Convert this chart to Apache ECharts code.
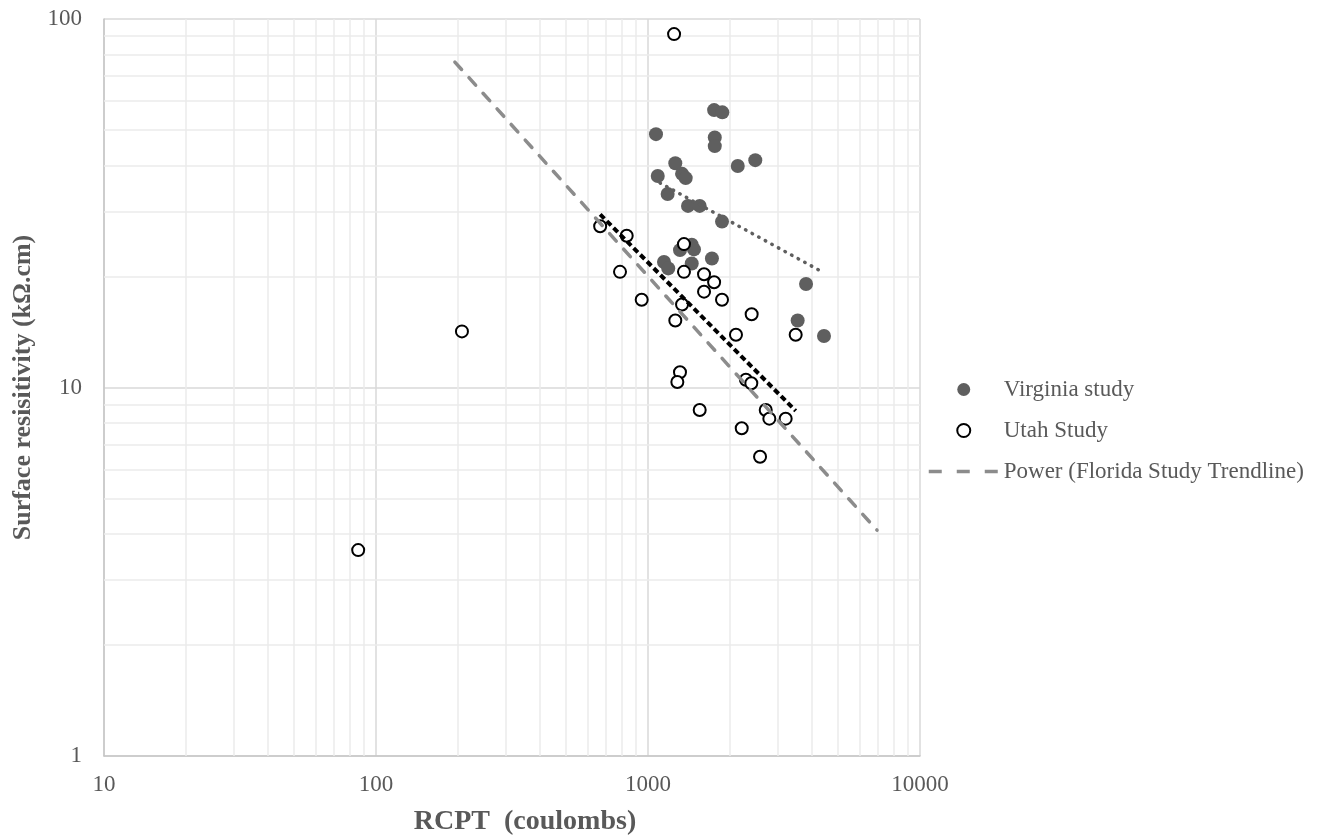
<!DOCTYPE html>
<html>
<head>
<meta charset="utf-8">
<title>RCPT vs surface resistivity</title>
<script src="https://cdn.jsdelivr.net/npm/echarts@6/dist/echarts.min.js"></script>
<style>
  html, body { margin: 0; padding: 0; background: #fff; }
  #myChart { width: 1337px; height: 839px; }
</style>
</head>
<body>
<div id="myChart"></div>
<script>
// Virginia study (filled dots)
var virginiaX = [1750, 1876, 1070, 1760, 1760, 1260, 2480, 2138, 1086, 1334, 1376, 1181, 1403, 1549, 1871, 1448, 1476, 1448, 1311, 1145, 1187, 1718, 3811, 3550, 4436];
var virginiaY = [56.6, 55.8, 48.7, 47.7, 45.2, 40.6, 41.4, 39.9, 37.5, 38.0, 37.0, 33.5, 31.1, 31.1, 28.2, 24.4, 23.7, 21.7, 23.6, 21.9, 21.05, 22.4, 19.1, 15.2, 13.8];

// Utah study (open circles)
var utahX = [86, 207, 1247, 667, 835, 789, 948, 1356, 1356, 1607, 1750, 1607, 1871, 1334, 1260, 2405, 2106, 3491, 1311, 1282, 2291, 2398, 1549, 2709, 2793, 3207, 2211, 2582];
var utahY = [3.62, 14.2, 91, 27.4, 25.8, 20.6, 17.3, 24.5, 20.6, 20.3, 19.3, 18.2, 17.3, 16.8, 15.2, 15.8, 13.9, 13.9, 11.0, 10.35, 10.5, 10.27, 8.69, 8.69, 8.23, 8.23, 7.75, 6.49];

// trendline end points
var floridaTrendX = [195, 6950];
var floridaTrendY = [76.4, 4.1];
var utahTrendX = [667, 3491];
var utahTrendY = [29.5, 8.64];
var virginiaTrendX = [1107, 4315];
var virginiaTrendY = [35.9, 20.7];

// minor grid values (log axes)
var xMinor = [20, 30, 40, 50, 60, 70, 80, 90, 200, 300, 400, 500, 600, 700, 800, 900, 2000, 3000, 4000, 5000, 6000, 7000, 8000, 9000];
var yMinor = [2, 3, 4, 5, 6, 7, 8, 9, 20, 30, 40, 50, 60, 70, 80, 90];

function pairs(xs, ys) {
    var out = [];
    for (var i = 0; i < xs.length; i++) out.push([xs[i], ys[i]]);
    return out;
}

var minorLines = [];
xMinor.forEach(function (v) { minorLines.push({ xAxis: v }); });
yMinor.forEach(function (v) { minorLines.push({ yAxis: v }); });

var font = 'Liberation Serif';
var txt = '#595959';

var myChart = echarts.init(document.getElementById('myChart'));

var option = {
    backgroundColor: '#fff',
    animation: false,
    grid: {
        left: 104, top: 19, right: 417, bottom: 83,
        containLabel: false, outerBoundsMode: 'none'
    },
    legend: {
        orient: 'vertical',
        left: 922, top: 373,
        itemWidth: 70, itemHeight: 13, itemGap: 18,
        textStyle: { fontFamily: font, fontSize: 23, color: txt },
        data: [
            'Virginia study',
            'Utah Study',
            {
                name: 'Power (Florida Study Trendline)',
                itemStyle: { opacity: 0 },
                lineStyle: { color: '#8c8c8c', width: 3.5, type: [13, 15], cap: 'butt' }
            }
        ]
    },
    xAxis: {
        type: 'log', min: 10, max: 10000,
        name: 'RCPT  (coulombs)', nameLocation: 'middle', nameGap: 52,
        nameTextStyle: { fontFamily: font, fontSize: 28, fontWeight: 'bold', color: txt, padding: [0, 0, 0, 26] },
        axisLine: { show: true, lineStyle: { color: '#c6c6c6', width: 1.5 } },
        axisTick: { show: false },
        axisLabel: { fontFamily: font, fontSize: 23, color: txt, margin: 17,
            formatter: function (v) { return String(Math.round(v)); } },
        splitLine: { show: true, lineStyle: { color: '#d9d9d9', width: 1.5 } }
    },
    yAxis: {
        type: 'log', min: 1, max: 100,
        name: 'Surface resisitivity (kΩ.cm)', nameLocation: 'middle', nameGap: 63,
        nameTextStyle: { fontFamily: font, fontSize: 26, fontWeight: 'bold', color: txt },
        axisLine: { show: true, lineStyle: { color: '#c6c6c6', width: 1.5 } },
        axisTick: { show: false },
        axisLabel: { fontFamily: font, fontSize: 23, color: txt, margin: 22,
            formatter: function (v) { return String(Math.round(v)); } },
        splitLine: { show: true, lineStyle: { color: '#d9d9d9', width: 1.5 } }
    },
    series: [
        {
            name: 'minor grid',
            type: 'line',
            data: [],
            silent: true,
            markLine: {
                silent: true, z: 1, animation: false,
                symbol: ['none', 'none'],
                label: { show: false },
                lineStyle: { color: '#ebebeb', width: 1.5, type: 'solid' },
                emphasis: { disabled: true },
                data: minorLines
            }
        },
        {
            name: 'Virginia study',
            type: 'scatter',
            symbol: 'circle',
            symbolSize: 14,
            itemStyle: { color: '#5f5f5f', opacity: 1 },
            data: pairs(virginiaX, virginiaY)
        },
        {
            name: 'Utah Study',
            type: 'scatter',
            symbol: 'circle',
            symbolSize: 12,
            itemStyle: { color: '#fff', borderColor: '#000', borderWidth: 2, opacity: 1 },
            data: pairs(utahX, utahY)
        },
        {
            name: 'Power (Florida Study Trendline)',
            type: 'line',
            symbol: 'none',
            itemStyle: { color: '#8c8c8c' },
            lineStyle: { color: '#8c8c8c', width: 3.5, type: [10, 11], cap: 'round' },
            data: pairs(floridaTrendX, floridaTrendY)
        },
        {
            name: 'Virginia trend',
            type: 'line',
            symbol: 'none',
            lineStyle: { color: '#5f5f5f', width: 3.5, type: [0.5, 7], cap: 'round' },
            data: pairs(virginiaTrendX, virginiaTrendY)
        },
        {
            name: 'Utah trend',
            type: 'line',
            symbol: 'none',
            lineStyle: { color: '#000', width: 4, type: [6, 3.5] },
            data: pairs(utahTrendX, utahTrendY)
        }
    ]
};

myChart.setOption(option);
</script>
</body>
</html>
